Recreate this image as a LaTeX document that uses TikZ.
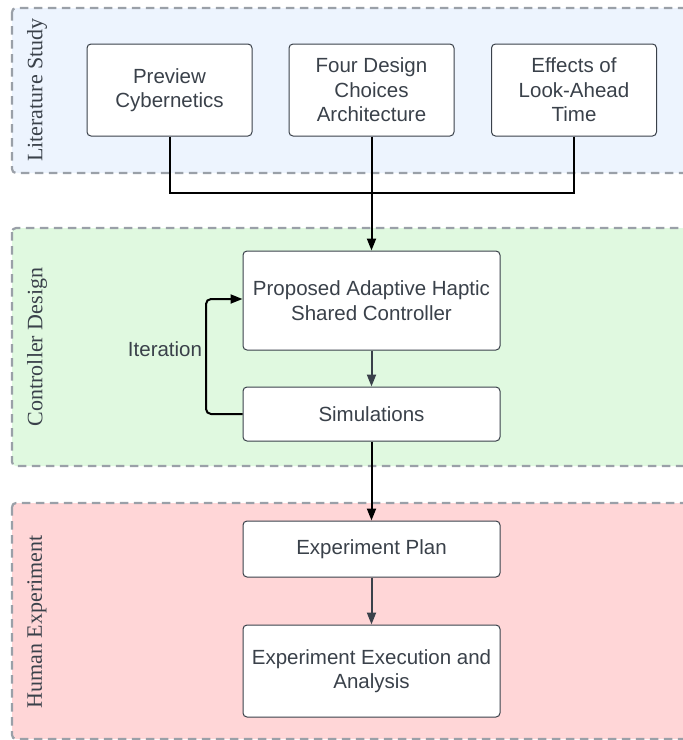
\documentclass[tikz,border=0pt]{standalone}
\usepackage{fontspec}
\usepackage{tikz}
\usetikzlibrary{calc, positioning, shapes, arrows, arrows.meta, backgrounds}
\newfontfamily\boxfont{Liberation Sans}
\newfontfamily\lanefont{Liberation Serif}
\definecolor{textgray}{HTML}{3A414A}
\definecolor{lanegray}{HTML}{9AA0A8}
\definecolor{litblue}{HTML}{EDF4FE}
\definecolor{ctrlgreen}{HTML}{E0F9E0}
\definecolor{humanred}{HTML}{FFD6D7}
\def\boxw{165pt}
\def\widew{257pt}
\tikzset{
	lane/.style={draw=lanegray, line width=2.2pt, dash pattern=on 8.5pt off 5.5pt, rounded corners=4pt},
	lane label/.style={rotate=90, text=textgray, font=\lanefont\fontsize{22}{24}\selectfont},
	block/.style={draw=textgray, fill=white, line width=1pt, rounded corners=4pt, align=center, text=textgray, font=\boxfont\fontsize{20.5}{24.5}\selectfont, inner sep=2pt},
	study block/.style={block, minimum width=\boxw, minimum height=92pt},
	wide block/.style={block, minimum width=\widew},
	flow/.style={-{Triangle[length=12pt,width=9pt]}, line width=2pt, draw=black},
	soft flow/.style={flow, draw=textgray}
}

\begin{document}
\begin{tikzpicture}[x=1pt, y=-1pt]
		\useasboundingbox (0,0) rectangle (683,740);

		% Draw the lanes
		\foreach \name / \top / \bot / \col in {lit/8/173/litblue, ctrl/228/466/ctrlgreen, hum/503/739/humanred}
		\draw[lane, fill=\col] (12,\top) rectangle (700,\bot);

		\node[lane label] (lit-label) at (37, 90) {Literature Study};
		\node[lane label] (ctrl-label) at (37, 347) {Controller Design};
		\node[lane label] (hum-label) at (37, 622) {Human Experiment};

		% Draw the study nodes
		\node[study block] (S-1) at (169.5, 90) {Preview\\Cybernetics};
		\node[study block] (S-2) at (371.5, 90) {Four Design\\Choices\\Architecture};
		\node[study block] (S-3) at (574, 90) {Effects of\\Look-Ahead\\Time};

		% Draw the controller nodes
		\node[wide block, minimum height=99pt] (ctrl) at (371.5, 300.5) {Proposed Adaptive Haptic\\Shared Controller};
		\node[wide block, minimum height=54pt] (sim) at (371.5, 414) {Simulations};

		% Draw the experiment nodes
		\node[wide block, minimum height=56pt] (plan) at (371.5, 549) {Experiment Plan};
		\node[wide block, minimum height=92pt] (exec) at (371.5, 671) {Experiment Execution and\\Analysis};

		% Merge the literature into the controller
		\coordinate (join) at (371.5, 193);
		\foreach \source in {1,3}
		\draw[line width=2pt] (S-\source.south) |- (join);
		\draw[flow] (S-2.south) -- (ctrl.north);

		% Connect the remaining steps.
		\draw[soft flow] (ctrl) -- (sim);
		\draw[flow] (sim) -- (plan);
		\draw[soft flow] (plan) -- (exec);

		% Iteration loop
		\coordinate (loop-low) at (206, 414);
		\coordinate (loop-high) at (206, 299);
		\draw[flow, rounded corners=5pt] (sim.west) -- (loop-low) -- (loop-high) -- (ctrl.west |- loop-high);
		\node[text=textgray, font=\boxfont\fontsize{20.5}{24.5}\selectfont] (iter) at (165, 349) {Iteration};
	\end{tikzpicture}
\end{document}
